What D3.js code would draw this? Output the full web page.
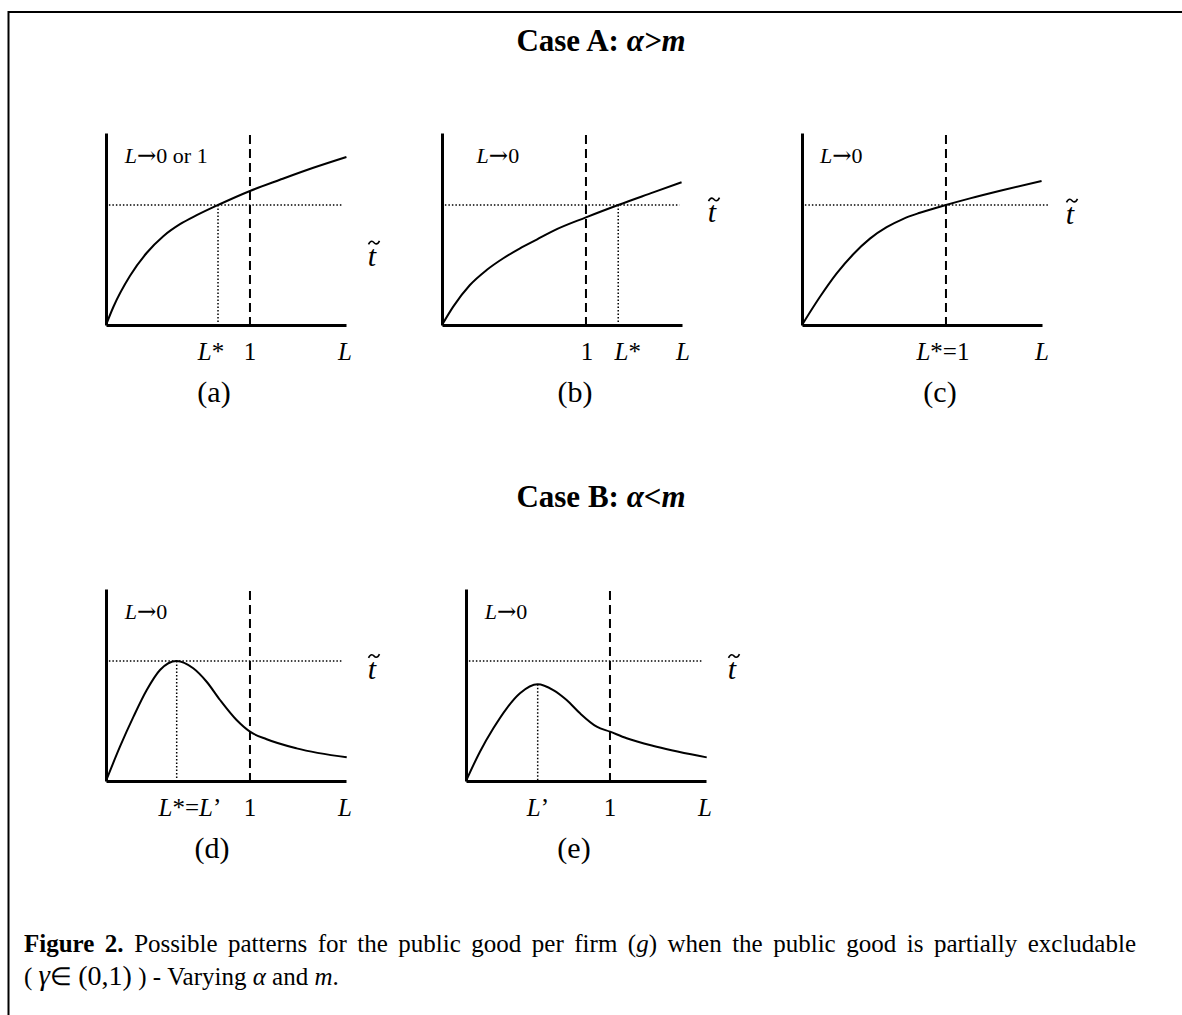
<!DOCTYPE html>
<html><head><meta charset="utf-8">
<script src="https://cdn.jsdelivr.net/npm/d3@7"></script>
<style>body{margin:0;background:#fff} svg{display:block}</style>
</head><body>
<script>
// ---------- DATA ----------
// L measured in units where the dashed line is L = 1; t measured in units where the dotted t̃ level = 1
const curveA_L = [0, 0.051, 0.167, 0.282, 0.398, 0.514, 0.630, 0.778, 1.000, 1.208, 1.440, 1.670];
const curveA_T = [0, 0.150, 0.410, 0.600, 0.740, 0.840, 0.915, 1.000, 1.117, 1.210, 1.310, 1.400];
const curveB_L = [0, 0.078, 0.194, 0.310, 0.426, 0.542, 0.658, 0.773, 1.000, 1.224, 1.467, 1.664];
const curveB_T = [0, 0.153, 0.333, 0.458, 0.556, 0.639, 0.712, 0.785, 0.897, 1.000, 1.105, 1.190];
const curveC_L = [0, 0.125, 0.241, 0.356, 0.472, 0.588, 0.704, 0.819, 1.000, 1.167, 1.398, 1.664];
const curveC_T = [0, 0.235, 0.430, 0.590, 0.720, 0.815, 0.885, 0.935, 1.000, 1.055, 1.125, 1.200];
const curveD_L = [0, 0.097, 0.191, 0.283, 0.375, 0.491, 0.606, 0.699, 0.792, 0.907, 1.000, 1.116, 1.324, 1.672];
const curveD_T = [0, 0.286, 0.536, 0.758, 0.925, 1.000, 0.939, 0.827, 0.675, 0.508, 0.411, 0.348, 0.272, 0.197];
const curveE_L = [0, 0.097, 0.190, 0.283, 0.375, 0.498, 0.606, 0.699, 0.792, 0.908, 1.000, 1.116, 1.324, 1.672];
const curveE_T = [0, 0.244, 0.439, 0.606, 0.731, 0.806, 0.758, 0.675, 0.564, 0.453, 0.411, 0.356, 0.286, 0.197];
// marked point (L*, or L') where the dotted drop line falls
const markL = [0.778, 1.224, null, 0.491, 0.498];
const markT = [1.000, 1.000, null, 1.000, 0.806];
// tick labels: value positions and texts
const tickValsA = [0.729, 1.0, 1.66];  const tickTxtA = ["L*", "1", "L"];
const tickValsB = [1.007, 1.29, 1.674]; const tickTxtB = ["1", "L*", "L"];
const tickValsC = [0.979, 1.667];       const tickTxtC = ["L*=1", "L"];
const tickValsD = [0.583, 1.0, 1.66];   const tickTxtD = ["L*=L’", "1", "L"];
const tickValsE = [0.5, 1.0, 1.66];     const tickTxtE = ["L’", "1", "L"];
const notes = ["L→0 or 1", "L→0", "L→0", "L→0", "L→0"];
const panelLabels = ["(a)", "(b)", "(c)", "(d)", "(e)"];
const caseTitles = ["Case A: ", "Case B: "];
const caseConds = ["α>m", "α<m"];

// ---------- LAYOUT ----------
const W = 1182, H = 1015;
const serif = '"Liberation Serif","Times New Roman",serif';
const xMax = 1.667, yMax = 1.6, plotW = 240, plotH = 192;
const layout = [
  {ox:106, ay:325, noteX:0.13, hEnd:1.646, tX:266, tY:0.57, labX:108},
  {ox:442, ay:325, noteX:0.24, hEnd:1.650, tX:270, tY:0.93, labX:133},
  {ox:802, ay:325, noteX:0.125, hEnd:1.708, tX:268, tY:0.92, labX:138},
  {ox:106, ay:781, noteX:0.13, hEnd:1.646, tX:266, tY:0.925, labX:106},
  {ox:466, ay:781, noteX:0.13, hEnd:1.646, tX:266, tY:0.925, labX:108}
];
const curvesL = [curveA_L, curveB_L, curveC_L, curveD_L, curveE_L];
const curvesT = [curveA_T, curveB_T, curveC_T, curveD_T, curveE_T];
const tickVals = [tickValsA, tickValsB, tickValsC, tickValsD, tickValsE];
const tickTxt = [tickTxtA, tickTxtB, tickTxtC, tickTxtD, tickTxtE];

const svg = d3.select("body").append("svg").attr("width", W).attr("height", H)
  .style("font-family", serif);

// frame (top & left only)
svg.append("path").attr("d", "M8.5,1015 V12 H1182").attr("fill","none")
  .attr("stroke","#000").attr("stroke-width",2);

// titles
[51, 507].forEach((yy, i) => {
  const t = svg.append("text").attr("x", 601).attr("y", yy).attr("text-anchor","middle")
    .attr("font-size", 31).attr("font-weight","bold");
  t.append("tspan").text(caseTitles[i]);
  t.append("tspan").attr("font-style","italic").text(caseConds[i]);
});

// writes a label where letters L are italic and the arrow is drawn wider
function richText(sel, str) {
  const parts = str.split(/(L|→)/).filter(s => s.length);
  parts.forEach(s => {
    const ts = sel.append("tspan").text(s);
    if (s === "L") ts.attr("font-style","italic");
    if (s === "→") ts.style("font-family", '"DejaVu Serif",serif').attr("font-size", "1.05em");
  });
}

layout.forEach((p, i) => {
  const x = d3.scaleLinear().domain([0, xMax]).range([p.ox, p.ox + plotW]);
  const y = d3.scaleLinear().domain([0, yMax]).range([p.ay, p.ay - plotH]);
  const g = svg.append("g");

  // axes (domain lines only)
  g.append("g").attr("transform", `translate(0,${p.ay})`)
    .call(d3.axisBottom(x).tickValues([]).tickSizeOuter(0))
    .call(s => s.select(".domain").attr("stroke-width", 3).attr("stroke","#000"));
  g.append("g").attr("transform", `translate(${p.ox},0)`)
    .call(d3.axisLeft(y).tickValues([]).tickSizeOuter(0))
    .call(s => s.select(".domain").attr("stroke-width", 3).attr("stroke","#000"));

  // dashed line at L = 1
  g.append("line").attr("x1", x(1)).attr("x2", x(1)).attr("y1", y(yMax) + 2).attr("y2", y(0))
    .attr("stroke","#000").attr("stroke-width", 2).attr("stroke-dasharray","9,5");

  // dotted t̃ level
  g.append("line").attr("x1", x(0.02)).attr("x2", x(p.hEnd)).attr("y1", y(1)).attr("y2", y(1))
    .attr("stroke","#000").attr("stroke-width", 1.5).attr("stroke-dasharray","1.5,2");

  // dotted drop line at marked point
  if (markL[i] !== null) {
    g.append("line").attr("x1", x(markL[i])).attr("x2", x(markL[i]))
      .attr("y1", y(markT[i])).attr("y2", y(0))
      .attr("stroke","#000").attr("stroke-width", 1.5).attr("stroke-dasharray","1.5,2");
  }

  // curve
  const pts = curvesL[i].map((v, k) => [v, curvesT[i][k]]);
  g.append("path").datum(pts)
    .attr("d", d3.line().x(d => x(d[0])).y(d => y(d[1])).curve(d3.curveMonotoneX))
    .attr("fill","none").attr("stroke","#000").attr("stroke-width", 2);

  // note text
  const nt = g.append("text").attr("x", x(p.noteX)).attr("y", p.ay - plotH + 30).attr("font-size", 22);
  richText(nt, notes[i]);

  // t tilde label: italic t, with the tilde accent drawn above it
  const tx = p.ox + p.tX, ty = y(p.tY) + 9;
  g.append("text").attr("x", tx).attr("y", ty).attr("text-anchor","middle")
    .attr("font-size", 30).attr("font-style","italic").text("t");
  const ax = tx + 2, ay = ty - 23;
  const tp = d3.path();
  tp.moveTo(ax - 5.5, ay + 1.8);
  tp.bezierCurveTo(ax - 3, ay - 3.5, ax - 0.5, ay - 0.5, ax, ay);
  tp.bezierCurveTo(ax + 0.5, ay + 0.5, ax + 3, ay + 3.5, ax + 5.5, ay - 1.8);
  g.append("path").attr("d", tp.toString()).attr("fill","none")
    .attr("stroke","#000").attr("stroke-width", 1.6);

  // tick labels
  tickVals[i].forEach((v, k) => {
    const tl = g.append("text").attr("x", x(v)).attr("y", p.ay + 35)
      .attr("text-anchor","middle").attr("font-size", 25);
    richText(tl, tickTxt[i][k]);
  });

  // panel label
  g.append("text").attr("x", p.ox + p.labX).attr("y", p.ay + 77).attr("text-anchor","middle")
    .attr("font-size", 30).text(panelLabels[i]);
});

// caption
const cap1 = svg.append("text").attr("x", 24).attr("y", 952).attr("font-size", 25);
cap1.append("tspan").attr("font-weight","bold").text("Figure 2.");
cap1.append("tspan").text(" Possible patterns for the public good per firm (");
cap1.append("tspan").attr("font-style","italic").text("g");
cap1.append("tspan").text(") when the public good is partially excludable");
// justified first line (as in the reference paragraph)
const capTarget = 1112;
const nSpaces = cap1.text().split(" ").length - 1;
const capLen = cap1.node().getComputedTextLength();
cap1.attr("word-spacing", Math.max(0, (capTarget - capLen) / nSpaces));

const cap2 = svg.append("text").attr("x", 24).attr("y", 985).attr("font-size", 25);
cap2.append("tspan").text("( ");
cap2.append("tspan").attr("font-style","italic").attr("font-size", 29).text("γ");
cap2.append("tspan").attr("font-size", 25).text("∈ ");
cap2.append("tspan").attr("font-size", 28).text("(0,1)");
cap2.append("tspan").text(" ) - Varying ");
cap2.append("tspan").attr("font-style","italic").text("α");
cap2.append("tspan").text(" and ");
cap2.append("tspan").attr("font-style","italic").text("m");
cap2.append("tspan").text(".");
</script>
</body></html>
